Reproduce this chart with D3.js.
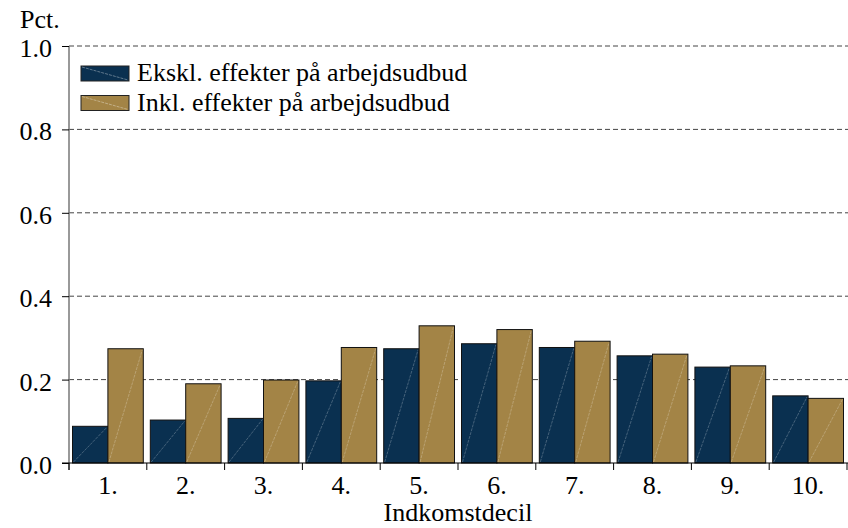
<!DOCTYPE html>
<html><head><meta charset="utf-8">
<script src="https://cdn.jsdelivr.net/npm/d3@7"></script>
<style>body{margin:0;background:#fff}svg text{font-family:"Liberation Serif","Times New Roman",serif;fill:#000}</style>
</head><body><svg id="c" width="848" height="528"></svg>
<script>
const categories = ["1.","2.","3.","4.","5.","6.","7.","8.","9.","10."];
const seriesNames = ["Ekskl. effekter på arbejdsudbud","Inkl. effekter på arbejdsudbud"];
const ekskl = [0.088,0.103,0.107,0.197,0.274,0.286,0.277,0.257,0.230,0.161];
const inkl  = [0.274,0.190,0.199,0.277,0.329,0.320,0.292,0.261,0.233,0.155];
const yTicks = [0,0.2,0.4,0.6,0.8,1.0];
const colors = ["#0a3050","#a38446"];

const svg = d3.select("#c");
const L=69, R=847, T=46, B=463;
const FS = "26px";
const x = d3.scaleBand().domain(categories).range([L,R]).paddingInner(0.09).paddingOuter(0.045);
const xg = d3.scaleBand().domain(categories).range([L,R]);
const xs = d3.scaleBand().domain([0,1]).range([0,x.bandwidth()]);
const y = d3.scaleLinear().domain([0,1]).range([B,T]);

// gridlines
svg.append("g").selectAll("line").data(yTicks.filter(d=>d>0)).join("line")
  .attr("x1",L).attr("x2",848).attr("y1",d=>y(d)).attr("y2",d=>y(d))
  .attr("stroke","#444").attr("stroke-dasharray","5,3").attr("stroke-width",1);

// y axis
const ya = svg.append("g").attr("transform",`translate(${L},0)`)
  .call(d3.axisLeft(y).tickValues(yTicks).tickFormat(d3.format(".1f")).tickSize(7).tickPadding(10));
ya.select(".domain").attr("stroke","#777").attr("stroke-width",1.5).attr("d",`M0,${T}V470`);
ya.selectAll(".tick line").attr("stroke","#000");
ya.selectAll(".tick text").style("font-size",FS).attr("dy","0.4em");

// bars
const data = categories.map((c,i)=>({c, v:[ekskl[i],inkl[i]]}));
const g = svg.append("g");
data.forEach(d=>{
  d.v.forEach((v,j)=>{
    const x0 = x(d.c)+xs(j), w = xs.bandwidth();
    g.append("rect").attr("x",x0).attr("y",y(v)).attr("width",w).attr("height",y(0)-y(v))
      .attr("fill",colors[j]).attr("stroke","#111").attr("stroke-width",1);
    g.append("line").attr("x1",x0+1).attr("y1",y(0)-1).attr("x2",x0+w-1).attr("y2",y(v)+1)
      .attr("stroke","rgba(255,255,255,0.3)").attr("stroke-width",0.8).attr("stroke-dasharray","3,1");
  });
});

// x axis
const xa = svg.append("g").attr("transform",`translate(0,${B})`)
  .call(d3.axisBottom(xg).tickSize(0).tickPadding(0));
xa.select(".domain").attr("stroke","#000").attr("stroke-width",1.2).attr("d",`M62,0H848`);
xa.selectAll(".tick text").style("font-size",FS).attr("dy",null).attr("y",31);
svg.append("g").selectAll("line").data(categories.concat(["end"])).join("line")
  .attr("x1",(d,i)=> i<categories.length ? xg(d) : R).attr("x2",(d,i)=> i<categories.length ? xg(d) : R)
  .attr("y1",B).attr("y2",B+7).attr("stroke","#000");

svg.append("text").attr("x",(L+R)/2).attr("y",521).attr("text-anchor","middle").style("font-size",FS).text("Indkomstdecil");
svg.append("text").attr("x",20).attr("y",28).style("font-size",FS).text("Pct.");

// legend
const lg = svg.append("g");
seriesNames.forEach((n,i)=>{
  const yy = 66 + i*29.5;
  lg.append("rect").attr("x",81).attr("y",yy).attr("width",48).attr("height",15).attr("fill",colors[i]).attr("stroke","#222");
  lg.append("line").attr("x1",82).attr("y1",yy+1).attr("x2",128).attr("y2",yy+14).attr("stroke","rgba(255,255,255,0.35)").attr("stroke-dasharray","3,1");
  lg.append("text").attr("x",137).attr("y",yy+15).style("font-size",FS).text(n);
});
</script></body></html>
